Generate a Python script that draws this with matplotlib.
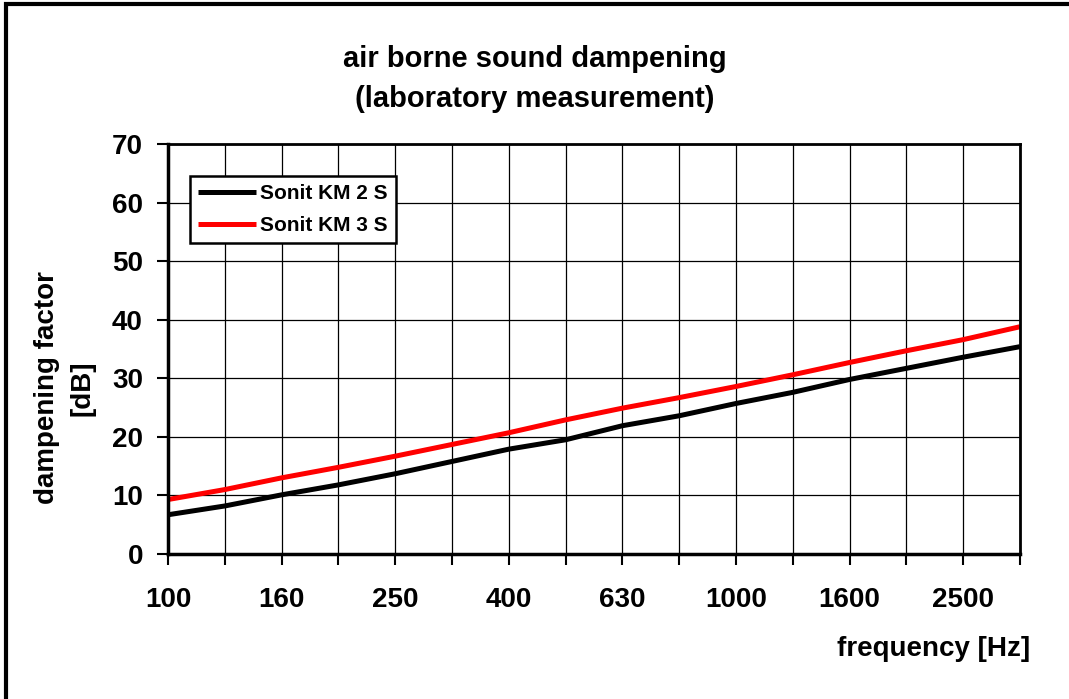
import matplotlib
matplotlib.use('Agg')
import matplotlib.pyplot as plt
from matplotlib.patches import Rectangle

# third-octave bands shown on the category axis
frequencies = ['100', '125', '160', '200', '250', '315', '400', '500',
               '630', '800', '1000', '1250', '1600', '2000', '2500', '3150']

# dampening values [dB]
km2s = [6.7, 8.2, 10.1, 11.8, 13.7, 15.8, 17.9, 19.5,
        21.9, 23.6, 25.7, 27.6, 29.8, 31.7, 33.6, 35.4]
km3s = [9.3, 11.0, 13.0, 14.8, 16.7, 18.7, 20.7, 22.9,
        24.9, 26.7, 28.6, 30.6, 32.7, 34.7, 36.6, 38.8]

series_names = ['Sonit KM 2 S', 'Sonit KM 3 S']

plt.rcParams['font.family'] = ['Liberation Sans', 'DejaVu Sans']
plt.rcParams['font.weight'] = 'bold'

fig = plt.figure(figsize=(10.69, 6.99), dpi=100)
ax = fig.add_axes([168 / 1069, 1 - 554 / 699, (1020 - 168) / 1069, (554 - 144) / 699])

x = range(len(frequencies))
ax.plot(x, km2s, color='black', lw=3.6, label=series_names[0], solid_capstyle='butt')
ax.plot(x, km3s, color='#ff0000', lw=3.6, label=series_names[1], solid_capstyle='butt')

ax.set_xlim(0, len(frequencies) - 1)
ax.set_ylim(0, 70)
ax.set_xticks(list(x))
ax.set_xticklabels([f if i % 2 == 0 else '' for i, f in enumerate(frequencies)])
ax.set_yticks(range(0, 71, 10))

ax.grid(True, color='black', lw=0.9)
ax.set_axisbelow(True)
ax.tick_params(axis='both', direction='out', length=8, width=1.5, labelsize=20, color='black')
ax.tick_params(axis='x', pad=15.5)
ax.tick_params(axis='y', pad=10)
for s in ['left', 'bottom']:
    ax.spines[s].set_linewidth(2.5)
for s in ['top', 'right']:
    ax.spines[s].set_linewidth(2)

leg = ax.legend(loc='upper left', bbox_to_anchor=(190 / 1069, 1 - 176 / 699),
                bbox_transform=fig.transFigure, borderaxespad=0, fontsize=15,
                fancybox=False, framealpha=1, edgecolor='black',
                handlelength=2.75, handletextpad=0.2, borderpad=0.4, labelspacing=0.6)
leg.get_frame().set_linewidth(1.8)

fig.text(0.5, 1 - 67 / 699, 'air borne sound dampening', ha='center', va='baseline',
         fontsize=21, fontweight='bold')
fig.text(0.5, 1 - 107 / 699, '(laboratory measurement)', ha='center', va='baseline',
         fontsize=21, fontweight='bold')
fig.text(1030 / 1069, 1 - 649 / 699, 'frequency [Hz]', ha='right', va='center',
         fontsize=20, fontweight='bold')
fig.text(65 / 1069, 1 - 388 / 699, 'dampening factor\n[dB]', ha='center', va='center',
         rotation=90, fontsize=20, fontweight='bold', linespacing=1.45)

# outer frame of the picture
fig.patches.append(Rectangle((6 / 1069, -0.1), 1.2, 1.1 - 4 / 699, fill=False,
                             lw=3, edgecolor='black', transform=fig.transFigure))

fig.savefig('out.png', dpi=100)
